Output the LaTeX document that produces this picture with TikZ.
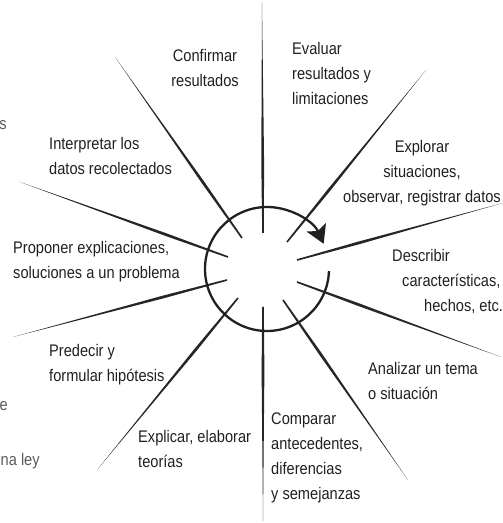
\documentclass[tikz,border=0pt]{standalone}
\usepackage{fontspec}
\setmainfont[FakeStretch=0.87]{Liberation Sans}
\usetikzlibrary{calc,arrows.meta}
\definecolor{ink}{HTML}{231F20}
\definecolor{spokeink}{HTML}{262626}
\definecolor{faded}{HTML}{5A5A5A}

% stacked lines, first baseline is the box baseline
\newcommand\leftlines[1]{\vtop{\halign{##\hfil\cr#1\crcr}}}
\newcommand\midlines[1]{\vtop{\halign{\hfil##\hfil\cr#1\crcr}}}
% tapered pencil-like spoke from inner end #1 to outer end #2
\newcommand\spoke[2]{%
  \fill[spokefill] ($(#1)!0.8pt!90:(#2)$)
    -- ($(#1)!0.3!(#2)!1.4pt!90:(#2)$) -- (#2)
    -- ($(#1)!0.3!(#2)!1.4pt!-90:(#2)$)
    -- ($(#1)!0.8pt!-90:(#2)$) -- cycle;}

\begin{document}
\begin{tikzpicture}[x=1pt,y=1pt,
  word/.style={font=\fontsize{16.8}{25}\selectfont, text=ink, inner sep=0pt},
  cutword/.style={word, text=faded},
  ring/.style={draw=ink, line width=2.3pt},
  spokefill/.style={fill=spokeink}]
\useasboundingbox (0,0) rectangle (503,523);
\clip (0,0) rectangle (503,523);

% spoke ends
\coordinate (upI) at (263,290);   \coordinate (upO) at (262,521);
\coordinate (exI) at (287,281);   \coordinate (exO) at (426,453);
\coordinate (dtI) at (297,263);   \coordinate (dtO) at (503,320);
\coordinate (dbI) at (297,241);   \coordinate (dbO) at (501,166);
\coordinate (anI) at (283,223);   \coordinate (anO) at (408,43);
\coordinate (dnI) at (263,216);   \coordinate (dnO) at (263,2);
\coordinate (elI) at (238,225);   \coordinate (elO) at (97,53);
\coordinate (prI) at (227,243);   \coordinate (prO) at (13,186);
\coordinate (poI) at (228,266);   \coordinate (poO) at (20,341);
\coordinate (inI) at (242,285);   \coordinate (inO) at (115,466);

\spoke{upI}{upO}
\spoke{exI}{exO}
\spoke{dtI}{dtO}
\spoke{dbI}{dbO}
\spoke{anI}{anO}
\spoke{dnI}{dnO}
\spoke{elI}{elO}
\spoke{prI}{prO}
\spoke{poI}{poO}
\spoke{inI}{inO}

% cycle arrow
\coordinate (c) at (267,254);
\draw[ring, -{Stealth[length=18pt,width=21pt,inset=4pt]}]
  ($(c)+(-2:62)$) arc[start angle=-2, end angle=-336, radius=62];

% labels
\node[word, anchor=base] (confirm) at (205,461)
  {\midlines{Confirmar\cr resultados}};
\node[word, anchor=base west] (evaluate) at (292,468)
  {\leftlines{Evaluar\cr resultados y\cr limitaciones}};
\node[word, anchor=base] (explore) at (422,370)
  {\midlines{Explorar\cr situaciones,\cr observar, registrar datos}};
\node[word, anchor=base west] (describe) at (392,261)
  {\leftlines{Describir\cr\hspace*{10pt}características,\cr\hspace*{32pt}hechos, etc.}};
\node[word, anchor=base west] (analyse) at (368,148)
  {\leftlines{Analizar un tema\cr o situación}};
\node[word, anchor=base west] (compare) at (271,98)
  {\leftlines{Comparar\cr antecedentes,\cr diferencias\cr y semejanzas}};
\node[word, anchor=base west] (explain) at (138,80)
  {\leftlines{Explicar, elaborar\cr teorías}};
\node[word, anchor=base west] (predict) at (49,166)
  {\leftlines{Predecir y\cr formular hipótesis}};
\node[word, anchor=base west] (propose) at (13,269)
  {\leftlines{Proponer explicaciones,\cr soluciones a un problema}};
\node[word, anchor=base west] (interpret) at (49,373)
  {\leftlines{Interpretar los\cr datos recolectados}};

% text running in from the left margin
\node[cutword, anchor=base east] (cutS) at (7,393) {s};
\node[cutword, anchor=base east] (cutE) at (8,112) {e};
\node[cutword, anchor=base west] (cutLey) at (0.5,57) {na ley};
\end{tikzpicture}
\end{document}
